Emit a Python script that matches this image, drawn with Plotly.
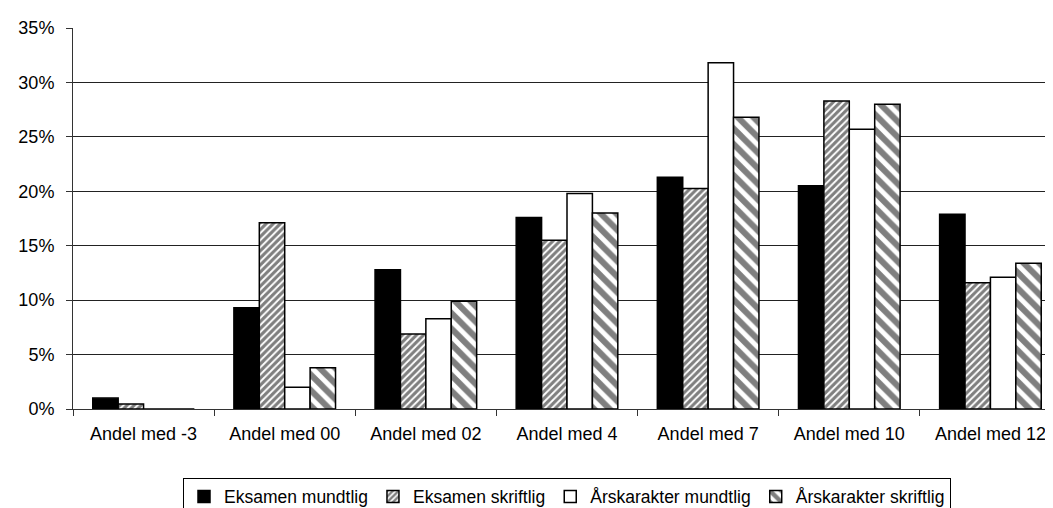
import plotly.graph_objects as go

categories = ["Andel med -3", "Andel med 00", "Andel med 02", "Andel med 4",
              "Andel med 7", "Andel med 10", "Andel med 12"]
eksamen_mundtlig = [1.0, 9.3, 12.8, 17.6, 21.3, 20.5, 17.9]
eksamen_skriftlig = [0.45, 17.1, 6.9, 15.5, 20.25, 28.3, 11.6]
aars_mundtlig = [0.0, 2.0, 8.3, 19.8, 31.8, 25.7, 12.1]
aars_skriftlig = [0.0, 3.8, 9.9, 18.0, 26.8, 28.0, 13.4]
y_ticks = [0, 5, 10, 15, 20, 25, 30, 35]
y_tick_labels = [f"{v}%" for v in y_ticks]

series = [
    ("Eksamen mundtlig", eksamen_mundtlig, dict(color="black")),
    ("Eksamen skriftlig", eksamen_skriftlig,
     dict(color="white", pattern=dict(shape="/", size=5, solidity=0.62, fgcolor="black", bgcolor="white"))),
    ("Årskarakter mundtlig", aars_mundtlig, dict(color="white")),
    ("Årskarakter skriftlig", aars_skriftlig,
     dict(color="white", pattern=dict(shape="\\", size=11, solidity=0.55, fgcolor="black", bgcolor="white"))),
]

fig = go.Figure()
for name, vals, marker in series:
    m = dict(marker)
    m["line"] = dict(color="black", width=1.5)
    fig.add_trace(go.Bar(name=name, x=categories, y=vals, marker=m))

fig.update_layout(
    width=1053, height=508,
    margin=dict(l=65, r=0, t=20, b=99),
    paper_bgcolor="white", plot_bgcolor="white",
    barmode="group", bargap=0.28, bargroupgap=0,
    font=dict(family="Liberation Sans, Arial, sans-serif", size=18, color="black"),
    showlegend=True,
    legend=dict(orientation="h", x=0.5, xanchor="center", y=-0.18, yanchor="top",
                bordercolor="black", borderwidth=1, font=dict(size=17.5),
                itemwidth=30, tracegroupgap=0),
)
fig.update_xaxes(type="category", showline=True, linecolor="#333", linewidth=1,
                 ticks="outside", tickson="boundaries", ticklen=6, tickcolor="#333",
                 ticklabelstandoff=8, showgrid=False)
fig.update_yaxes(range=[0, 35], tickvals=y_ticks, ticktext=y_tick_labels,
                 showline=True, linecolor="#333", linewidth=1,
                 ticks="outside", ticklen=6, tickcolor="#333", ticklabelstandoff=8,
                 showgrid=True, gridcolor="#222", gridwidth=1, zeroline=False)

fig.write_html("out.html")
